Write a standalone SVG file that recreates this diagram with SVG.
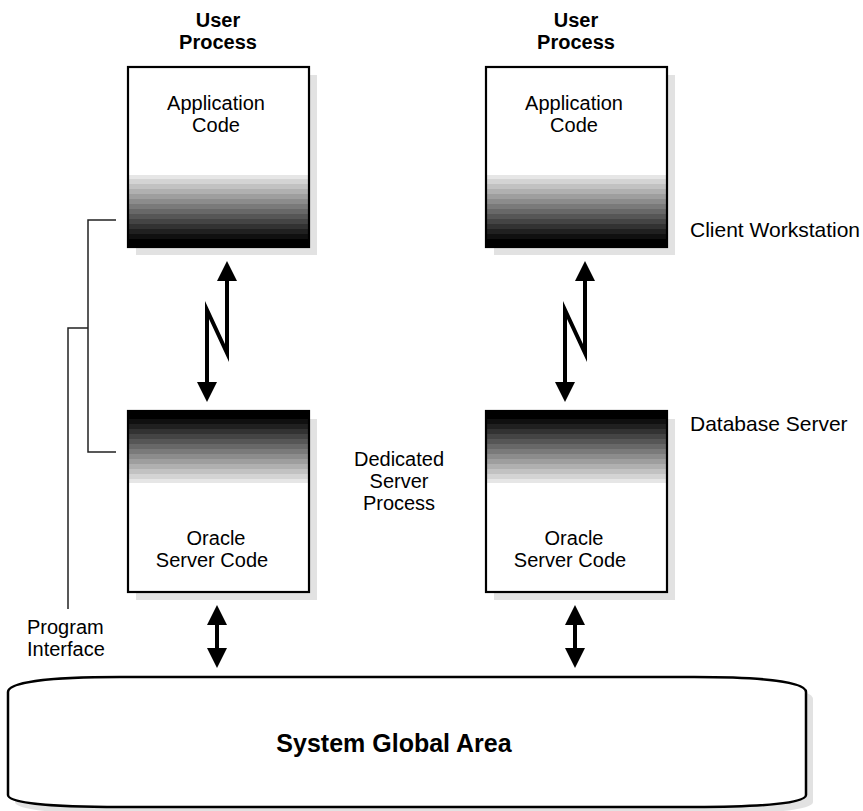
<svg xmlns="http://www.w3.org/2000/svg" xmlns:xlink="http://www.w3.org/1999/xlink" width="863" height="811" viewBox="0 0 863 811">
<style>
  .t { font-family: "Liberation Sans", Arial, sans-serif; font-size: 20px; fill: #000; }
  .c { font-family: "Liberation Sans", Arial, sans-serif; font-size: 21px; fill: #000; }
  .b { font-family: "Liberation Sans", Arial, sans-serif; font-size: 20px; font-weight: bold; fill: #000; }
  .sga { font-family: "Liberation Sans", Arial, sans-serif; font-size: 25px; font-weight: bold; fill: #000; }
  .box { fill: none; stroke: #000; stroke-width: 2.2; }
  .shadow { fill: #e2e2e2; }
  .arrow { fill: none; stroke: #000; stroke-width: 4; stroke-linejoin: miter; stroke-miterlimit: 8; }
  .brk { fill: none; stroke: #222; stroke-width: 1.5; }
</style>
<defs>
  <marker id="ah" viewBox="0 0 20 20" refX="16" refY="10" markerWidth="20" markerHeight="20" markerUnits="userSpaceOnUse" orient="auto-start-reverse">
    <path d="M0,0 L20,10 L0,20 Z" fill="#000"/>
  </marker>
  <g id="bands">
    <rect x="0" y="0" width="181" height="8" fill="#000000"/>
    <rect x="0" y="8" width="181" height="5" fill="#101010"/>
    <rect x="0" y="13" width="181" height="5" fill="#202020"/>
    <rect x="0" y="18" width="181" height="5" fill="#323232"/>
    <rect x="0" y="23" width="181" height="5" fill="#444444"/>
    <rect x="0" y="28" width="181" height="5" fill="#565656"/>
    <rect x="0" y="33" width="181" height="5" fill="#686868"/>
    <rect x="0" y="38" width="181" height="5" fill="#7a7a7a"/>
    <rect x="0" y="43" width="181" height="5" fill="#8c8c8c"/>
    <rect x="0" y="48" width="181" height="5" fill="#9e9e9e"/>
    <rect x="0" y="53" width="181" height="5" fill="#b0b0b0"/>
    <rect x="0" y="58" width="181" height="5" fill="#c2c2c2"/>
    <rect x="0" y="63" width="181" height="5" fill="#d4d4d4"/>
    <rect x="0" y="68" width="181" height="4" fill="#e6e6e6"/>
  </g>
</defs>
<rect width="863" height="811" fill="#fff"/>

<g id="label-user-process-1">
  <text class="b" x="218" y="27" text-anchor="middle">User</text>
  <text class="b" x="218" y="49" text-anchor="middle">Process</text>
</g>
<g id="label-user-process-2">
  <text class="b" x="576" y="27" text-anchor="middle">User</text>
  <text class="b" x="576" y="49" text-anchor="middle">Process</text>
</g>

<g id="app-code-1">
  <rect class="shadow" x="136" y="75" width="181" height="180"/>
  <rect x="128" y="67" width="181" height="180" fill="#fff"/>
  <use xlink:href="#bands" transform="translate(128,247) scale(1,-1)"/>
  <rect class="box" x="128" y="67" width="181" height="180"/>
  <text class="t" x="216" y="110" text-anchor="middle">Application</text>
  <text class="t" x="216" y="132" text-anchor="middle">Code</text>
</g>
<g id="app-code-2">
  <rect class="shadow" x="494" y="75" width="181" height="180"/>
  <rect x="486" y="67" width="181" height="180" fill="#fff"/>
  <use xlink:href="#bands" transform="translate(486,247) scale(1,-1)"/>
  <rect class="box" x="486" y="67" width="181" height="180"/>
  <text class="t" x="574" y="110" text-anchor="middle">Application</text>
  <text class="t" x="574" y="132" text-anchor="middle">Code</text>
</g>

<g id="server-code-1">
  <rect class="shadow" x="136" y="419" width="181" height="181"/>
  <rect x="128" y="411" width="181" height="181" fill="#fff"/>
  <use xlink:href="#bands" transform="translate(128,411)"/>
  <rect class="box" x="128" y="411" width="181" height="181"/>
  <text class="t" x="216" y="545" text-anchor="middle">Oracle</text>
  <text class="t" x="212" y="567" text-anchor="middle">Server Code</text>
</g>
<g id="server-code-2">
  <rect class="shadow" x="494" y="419" width="181" height="181"/>
  <rect x="486" y="411" width="181" height="181" fill="#fff"/>
  <use xlink:href="#bands" transform="translate(486,411)"/>
  <rect class="box" x="486" y="411" width="181" height="181"/>
  <text class="t" x="574" y="545" text-anchor="middle">Oracle</text>
  <text class="t" x="570" y="567" text-anchor="middle">Server Code</text>
</g>

<g id="sga">
  <path class="shadow" d="M15,699 C15,689 57,684 127,684 L701,684 C771,684 813,689 813,699 L813,802 C813,810 771,814 701,814 L127,814 C57,814 15,810 15,802 Z"/>
  <path d="M8,692 C8,682 50,677 120,677 L694,677 C764,677 806,682 806,692 L806,795 C806,803 764,807 694,807 L120,807 C50,807 8,803 8,795 Z" fill="#fff" stroke="#000" stroke-width="2.5"/>
  <text class="sga" x="394" y="752" text-anchor="middle">System Global Area</text>
</g>

<g id="label-client-workstation">
  <text class="c" x="690" y="237">Client Workstation</text>
</g>
<g id="label-database-server">
  <text class="c" x="690" y="431">Database Server</text>
</g>
<g id="label-dedicated-server-process">
  <text class="t" x="399" y="466" text-anchor="middle">Dedicated</text>
  <text class="t" x="399" y="488" text-anchor="middle">Server</text>
  <text class="t" x="399" y="510" text-anchor="middle">Process</text>
</g>
<g id="label-program-interface">
  <text class="t" x="27" y="634">Program</text>
  <text class="t" x="27" y="656">Interface</text>
</g>

<g id="connectors">
  <polyline class="arrow" points="227,265 227,353 207,310 207,398" marker-start="url(#ah)" marker-end="url(#ah)"/>
  <polyline class="arrow" points="585,265 585,353 565,310 565,398" marker-start="url(#ah)" marker-end="url(#ah)"/>
  <line class="arrow" x1="217" y1="609" x2="217" y2="664" marker-start="url(#ah)" marker-end="url(#ah)"/>
  <line class="arrow" x1="575" y1="609" x2="575" y2="664" marker-start="url(#ah)" marker-end="url(#ah)"/>
  <polyline class="brk" points="116,220 88,220 88,452 116,452"/>
  <polyline class="brk" points="88,328 68,328 68,609"/>
</g>
</svg>
